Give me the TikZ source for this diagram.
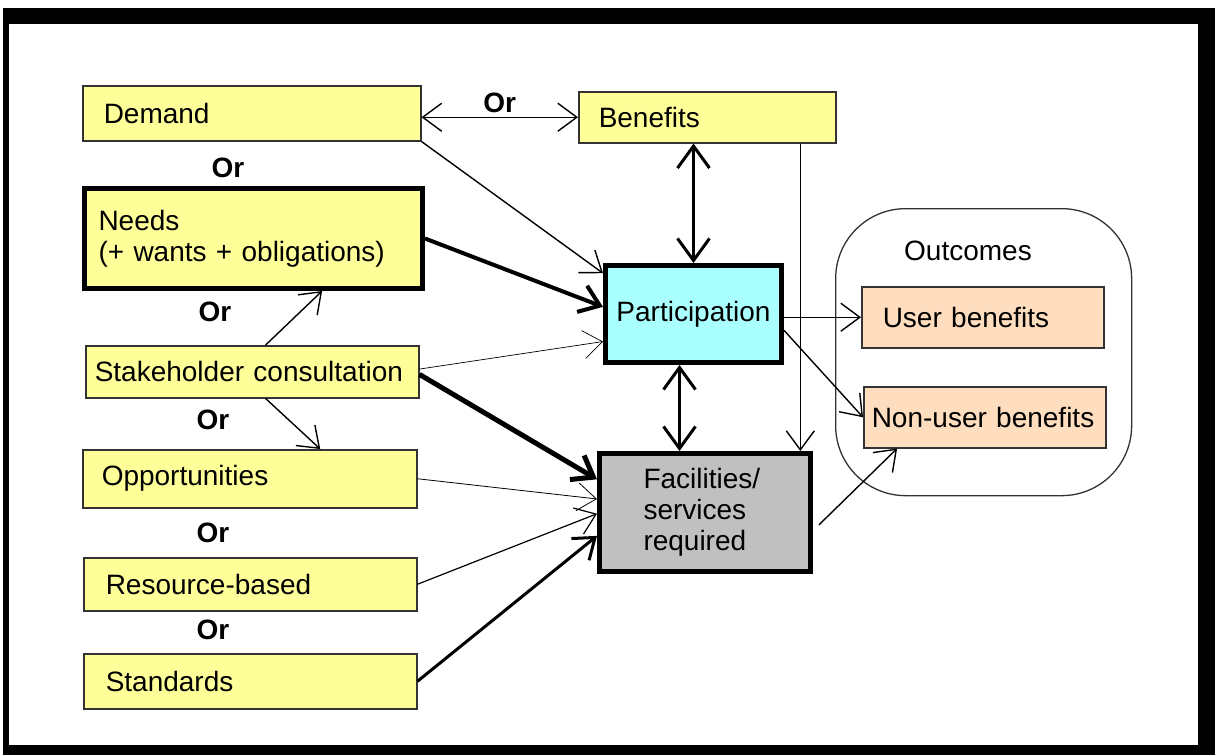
\documentclass[tikz,border=0pt]{standalone}
\usepackage{fontspec}
\setmainfont{Liberation Sans}
\usetikzlibrary{calc,arrows.meta}
\definecolor{boxyellow}{HTML}{FFFF99}
\definecolor{partcyan}{HTML}{AAFFFF}
\definecolor{facgray}{HTML}{C0C0C0}
\definecolor{outpeach}{HTML}{FFDEC0}

\begin{document}
\begin{tikzpicture}[x=1pt,y=-1pt,
  every node/.style={font=\fontsize{28}{31}\selectfont},
  box/.style={draw=black!80,line width=1.5pt,fill=boxyellow,anchor=north west,align=left,inner ysep=0pt},
  keybox/.style={draw=black,line width=5pt,anchor=north west,inner sep=0pt},
  orlab/.style={font=\fontsize{28}{31}\selectfont\bfseries},
  bigtip/.style={>={Straight Barb[length=22pt,width=32pt]}},
  >={Straight Barb[length=19pt,width=28pt]}]

\useasboundingbox (0,0) rectangle (1219,755);
\fill[black] (3,8) rectangle (1215,755);
\fill[white] (9,24) rectangle (1198,745);

\node[box,text width=296pt,inner xsep=21pt,minimum height=55pt] (demand) at (82,85) {Demand};
\node[box,text width=217pt,inner xsep=20pt,minimum height=51pt] (ben) at (578,91) {Benefits};
\node[box,draw=black,line width=5pt,text width=310pt,inner xsep=14pt,minimum height=100pt] (needs) at (82,186) {Needs\\(+ wants + obligations)};
\node[box,text width=315pt,inner xsep=9pt,minimum height=52pt] (stake) at (85,345) {Stakeholder consultation};
\node[box,text width=296pt,inner xsep=19pt,minimum height=58pt] (opp) at (82,449) {Opportunities};
\node[box,text width=289pt,inner xsep=22pt,minimum height=53pt] (res) at (83,557) {Resource-based};
\node[box,text width=289pt,inner xsep=22pt,minimum height=55pt] (stand) at (83,653) {Standards};

\node[orlab] (or1) at (228,168) {Or};
\node[orlab] (or2) at (215,312) {Or};
\node[orlab] (or3) at (213,420) {Or};
\node[orlab] (or4) at (213,533) {Or};
\node[orlab] (or5) at (213,630) {Or};

\node[keybox,fill=partcyan,minimum width=176pt,minimum height=97pt] (part) at (603,263) {Participation};
\node[keybox,fill=facgray,align=left,text width=123pt,inner xsep=44pt,minimum height=118pt] (fac) at (597,451) {Facilities/\\services\\required};

\node[draw=black!80,line width=1.3pt,rounded corners=70pt,anchor=north west,minimum width=296pt,minimum height=287pt] (outc) at (835,208) {};
\node (outlab) at (968,251) {Outcomes};
\node[box,fill=outpeach,text width=200pt,inner xsep=21pt,minimum height=61pt] (user) at (861,286) {User benefits};
\node[box,fill=outpeach,text width=226pt,inner xsep=8pt,minimum height=61pt] (nonuser) at (863,386) {Non-user benefits};

\begin{scope}[line width=1.4pt]
%into participation
\draw[->] (demand.south east) -- ($(part.north west)!0.1!(part.south west)$);
\draw[->,line width=4pt] (needs.east) -- ($(part.north west)!0.43!(part.south west)$);
\draw[->,line width=0.7pt] ($(stake.north east)!0.45!(stake.south east)$) -- ($(part.north west)!0.77!(part.south west)$);
%into facilities
\draw[->,line width=5pt] ($(stake.north east)!0.55!(stake.south east)$) -- ($(fac.north west)!0.23!(fac.south west)$);
\draw[->,line width=0.8pt] (opp.east) -- ($(fac.north west)!0.39!(fac.south west)$);
\draw[->,line width=1.2pt] (res.east) -- ($(fac.north west)!0.51!(fac.south west)$);
\draw[->,line width=3pt] (stand.east) -- ($(fac.north west)!0.69!(fac.south west)$);
%stakeholder to its neighbours
\draw[->] ($(stake.north west)!0.54!(stake.north east)$) -- ($(needs.south west)!0.7!(needs.south east)$);
\draw[->] ($(stake.south west)!0.54!(stake.south east)$) -- ($(opp.north west)!0.71!(opp.north east)$);
%top and middle column
\draw[<->] (demand.east |- ben.west) -- node[orlab,above]{Or} (ben.west);
\draw[<->,line width=3pt,bigtip] (part.north |- ben.south) -- (part.north);
\coordinate (pf) at ([xshift=-14pt]part.south);
\draw[<->,line width=3pt,bigtip] (pf) -- (pf |- fac.north);
\coordinate (bf) at ($(ben.south west)!0.86!(ben.south east)$);
\draw[->] (bf) -- (bf |- fac.north);
%outcomes
\draw[->] (user.west -| part.east) -- (user.west);
\draw[->] ($(part.north east)!0.66!(part.south east)$) -- (nonuser.west);
\draw[->] ([xshift=6pt]$(fac.north east)!0.6!(fac.south east)$) -- ($(nonuser.south west)!0.14!(nonuser.south east)$);
\end{scope}
\end{tikzpicture}
\end{document}
